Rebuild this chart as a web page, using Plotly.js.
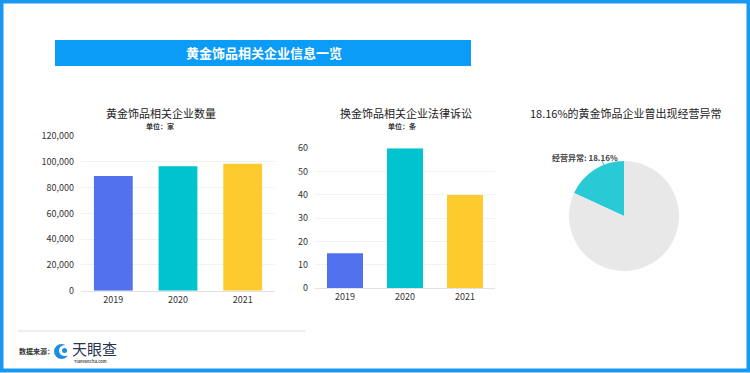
<!DOCTYPE html>
<html><head><meta charset="utf-8">
<script src="https://cdn.plot.ly/plotly-3.0.1.min.js"></script>
<style>html,body{margin:0;padding:0;background:#fff;}#c{width:750px;height:373px;}</style>
</head><body><div id="c"></div>
<script>
const years = ['2019', '2020', '2021'];
const companyCounts = [89000, 96500, 98500];
const lawsuitCounts = [15, 60, 40];
const barColors = ['#5271ee', '#00c3d0', '#fdcb2e'];
const pieLabels = ['经营异常', '正常'];
const pieValues = [18.16, 81.84];
const pieColors = ['#29c9d6', '#e8e8e8'];
const countTicks = [0, 20000, 40000, 60000, 80000, 100000, 120000];
const lawsuitTicks = [0, 10, 20, 30, 40, 50, 60];

const W = 750, H = 373;
const px = x => x / W;
const py = y => 1 - y / H;
const FONT = '"Noto Sans CJK SC", "Noto Sans", sans-serif';
const pieTotal = pieValues.reduce((a, b) => a + b, 0);

const traces = [
  {type: 'bar', x: years, y: companyCounts, marker: {color: barColors}, xaxis: 'x', yaxis: 'y', hoverinfo: 'none'},
  {type: 'bar', x: years, y: lawsuitCounts, marker: {color: barColors}, xaxis: 'x2', yaxis: 'y2', hoverinfo: 'none'},
  {type: 'pie', labels: pieLabels, values: pieValues, marker: {colors: pieColors, line: {width: 0}}, sort: false,
   direction: 'counterclockwise', rotation: -pieValues[0] / pieTotal * 360, textinfo: 'none', hoverinfo: 'none',
   domain: {x: [px(569), px(679)], y: [py(271), py(161)]}}
];

const axisCommon = {
  tickfont: {size: 9, color: '#333', family: FONT},
  showline: false, zeroline: false, fixedrange: true
};

function ann(text, x, y, size, color, xanchor) {
  return {text: text, x: px(x), y: py(y), xref: 'paper', yref: 'paper', xanchor: xanchor || 'center',
    yanchor: 'middle', showarrow: false, font: {size: size, color: color, family: FONT}};
}

const layout = {
  width: W, height: H, margin: {l: 0, r: 0, t: 0, b: 0},
  paper_bgcolor: '#fff', plot_bgcolor: 'rgba(0,0,0,0)', showlegend: false,
  font: {family: FONT},
  bargap: 0.4,
  xaxis: Object.assign({}, axisCommon, {domain: [px(81), px(275)], anchor: 'y', showgrid: false,
    showline: true, linecolor: '#e3e3e3', linewidth: 1, ticks: ''}),
  yaxis: Object.assign({}, axisCommon, {domain: [py(290.7), py(136)], anchor: 'x', range: [0, 120000],
    tickvals: countTicks, ticktext: countTicks.map(v => v.toLocaleString('en-US')),
    showgrid: true, gridcolor: '#f2f2f2', gridwidth: 1, ticklabelstandoff: 6}),
  xaxis2: Object.assign({}, axisCommon, {domain: [px(315), px(495)], anchor: 'y2', showgrid: false,
    showline: true, linecolor: '#e3e3e3', linewidth: 1, ticks: ''}),
  yaxis2: Object.assign({}, axisCommon, {domain: [py(288.3), py(148.3)], anchor: 'x2', range: [0, 60],
    tickvals: lawsuitTicks, showgrid: true, gridcolor: '#f2f2f2', gridwidth: 1, ticklabelstandoff: 6}),
  shapes: [
    {type: 'rect', xref: 'paper', yref: 'paper', x0: px(1.5), x1: px(748.5), y0: py(370.5), y1: py(1.5),
     line: {color: '#1898f0', width: 4}, fillcolor: 'rgba(0,0,0,0)'},
    {type: 'rect', xref: 'paper', yref: 'paper', x0: px(55), x1: px(471), y0: py(66), y1: py(40),
     line: {width: 0}, fillcolor: '#0a9cf6'},
    {type: 'line', xref: 'paper', yref: 'paper', x0: px(18), x1: px(305), y0: py(331), y1: py(331),
     line: {color: '#dcdcdc', width: 1}},
    {type: 'line', xref: 'paper', yref: 'paper', x0: px(602), x1: px(604), y0: py(161), y1: py(165),
     line: {color: '#29c9d6', width: 1}},
    {type: 'circle', xref: 'paper', yref: 'paper', x0: px(54), x1: px(69), y0: py(359), y1: py(344),
     line: {width: 0}, fillcolor: '#1c8de0'},
    {type: 'circle', xref: 'paper', yref: 'paper', x0: px(59), x1: px(71), y0: py(356), y1: py(345),
     line: {width: 0}, fillcolor: '#ffffff'},
    {type: 'circle', xref: 'paper', yref: 'paper', x0: px(62), x1: px(67), y0: py(353), y1: py(348),
     line: {width: 0}, fillcolor: '#1c8de0'}
  ],
  annotations: [
    ann('<b>黄金饰品相关企业信息一览</b>', 264, 53, 13, '#fff'),
    ann('黄金饰品相关企业数量', 161, 113, 11, '#222'),
    ann('<b>单位：家</b>', 160, 126, 7, '#333'),
    ann('换金饰品相关企业法律诉讼', 406, 113, 11, '#222'),
    ann('<b>单位：条</b>', 402, 126, 7, '#333'),
    ann(pieValues[0].toFixed(2) + '%的黄金饰品企业曾出现经营异常', 626, 113, 11, '#222'),
    ann('<b>' + pieLabels[0] + ': ' + pieValues[0].toFixed(2) + '%</b>', 620, 157, 8, '#444', 'right'),
    ann('<b>数据来源：</b>', 17, 351, 7, '#333', 'left'),
    ann('天眼查', 70, 348, 15, '#26344f', 'left'),
    ann('<b>TianYanCha.com</b>', 72, 361, 4, '#555', 'left')
  ]
};

Plotly.newPlot('c', traces, layout, {staticPlot: true, displayModeBar: false});
</script></body></html>
